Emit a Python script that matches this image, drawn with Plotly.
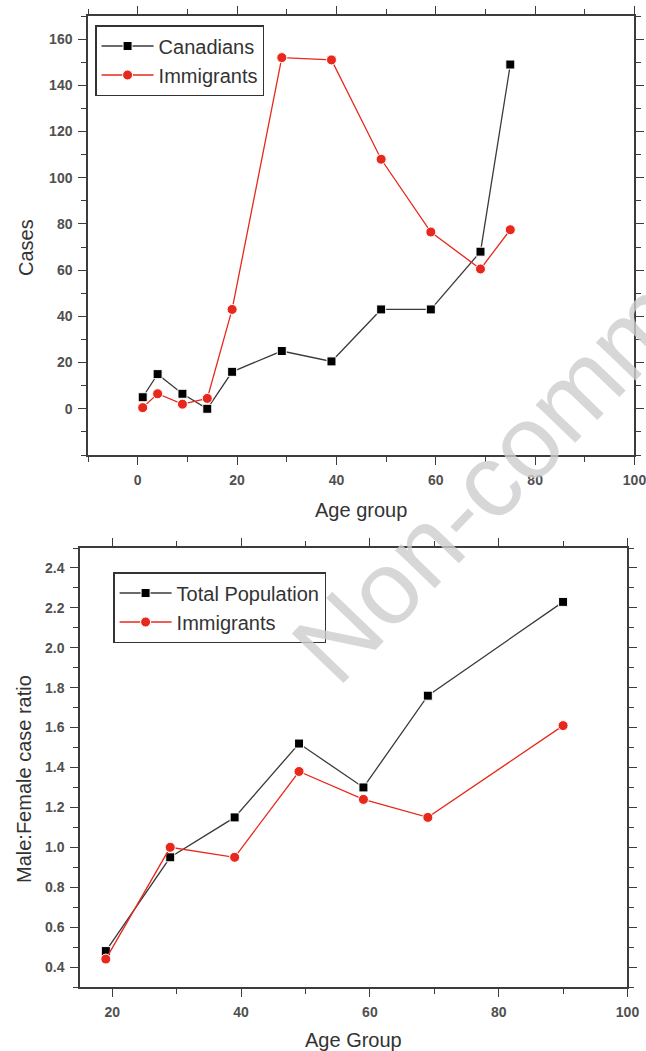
import plotly.graph_objects as go

# Top panel: cases by age group
age_top = [1, 4, 9, 14, 19, 29, 39, 49, 59, 69, 75]
canadians = [5, 15, 6.5, 0, 16, 25, 20.5, 43, 43, 68, 149]
immigrants_cases = [0.5, 6.5, 2, 4.5, 43, 152, 151, 108, 76.5, 60.5, 77.5]

# Bottom panel: male:female case ratio
age_bottom = [19, 29, 39, 49, 59, 69, 90]
total_pop_ratio = [0.48, 0.95, 1.15, 1.52, 1.30, 1.76, 2.23]
immigrants_ratio = [0.44, 1.00, 0.95, 1.38, 1.24, 1.15, 1.61]

top_y_ticks = [0, 20, 40, 60, 80, 100, 120, 140, 160]
top_x_ticks = [0, 20, 40, 60, 80, 100]
bot_y_ticks = [0.4, 0.6, 0.8, 1.0, 1.2, 1.4, 1.6, 1.8, 2.0, 2.2, 2.4]
bot_x_ticks = [20, 40, 60, 80, 100]

FONT = "Liberation Sans, Arial, sans-serif"
BLACK_LINE = "#3a3a3a"
RED = "#e8281c"
AXC = "#3c3c3c"

# horizontal compensation for the capture (page appears ~1.9% narrower)
S = 1 / 0.981
W, H = 658, 1051


def px(X):
    return X * S / W


def py(Y):
    return 1 - Y / H


fig = go.Figure()

fig.add_trace(go.Scatter(x=age_top, y=canadians, name="Canadians", mode="lines+markers",
                         line=dict(color=BLACK_LINE, width=1.3),
                         marker=dict(symbol="square", size=9, color="black", line=dict(color="white", width=1)),
                         xaxis="x", yaxis="y", legend="legend"))
fig.add_trace(go.Scatter(x=age_top, y=immigrants_cases, name="Immigrants", mode="lines+markers",
                         line=dict(color=RED, width=1.3),
                         marker=dict(symbol="circle", size=10, color=RED, line=dict(color="white", width=1)),
                         xaxis="x", yaxis="y", legend="legend"))
fig.add_trace(go.Scatter(x=age_bottom, y=total_pop_ratio, name="Total Population", mode="lines+markers",
                         line=dict(color=BLACK_LINE, width=1.3),
                         marker=dict(symbol="square", size=9, color="black", line=dict(color="white", width=1)),
                         xaxis="x2", yaxis="y2", legend="legend2"))
fig.add_trace(go.Scatter(x=age_bottom, y=immigrants_ratio, name="Immigrants", mode="lines+markers",
                         line=dict(color=RED, width=1.3),
                         marker=dict(symbol="circle", size=10, color=RED, line=dict(color="white", width=1)),
                         xaxis="x2", yaxis="y2", legend="legend2"))

tickfont = dict(family=FONT, size=14, color="#505050", weight="bold")


def axis(domain, anchor, rng, tickvals, minor_tick0, minor_dtick, fmt=None):
    d = dict(domain=domain, anchor=anchor, range=rng, tickmode="array", tickvals=tickvals,
             showgrid=False, zeroline=False, showline=True, linecolor=AXC, linewidth=1.6,
             mirror="ticks", ticks="outside", ticklen=8, tickwidth=1.4, tickcolor=AXC,
             tickfont=tickfont, ticklabelstandoff=3,
             minor=dict(tickmode="linear", tick0=minor_tick0, dtick=minor_dtick, ticks="outside",
                        ticklen=5, tickwidth=1.2, tickcolor=AXC, showgrid=False))
    if fmt:
        d["tickformat"] = fmt
    return d


legend_style = dict(xanchor="left", yanchor="top", bgcolor="white",
                    bordercolor="#333333", borderwidth=1.5,
                    font=dict(family=FONT, size=20, color="#333333"),
                    tracegroupgap=0, itemwidth=52)

fig.update_layout(
    width=W, height=H, margin=dict(l=0, r=0, t=0, b=0),
    paper_bgcolor="white", plot_bgcolor="white",
    font=dict(family=FONT, color="#333333"),
    xaxis=axis([px(88), px(634)], "y", [-10, 100], top_x_ticks, -10, 10),
    yaxis=axis([py(455), py(16)], "x", [-20, 170], top_y_ticks, -10, 10),
    xaxis2=axis([px(80), px(627)], "y2", [15, 100], bot_x_ticks, 10, 10),
    yaxis2=axis([py(987), py(548)], "x2", [0.3, 2.5], bot_y_ticks, 0.3, 0.1, ".1f"),
    legend=dict(x=px(95), y=py(25), **legend_style),
    legend2=dict(x=px(113), y=py(572), **legend_style),
    showlegend=True,
)

annots = [
    dict(text="Cases", x=px(26), y=py(248), textangle=-90),
    dict(text="Age group", x=px(361), y=py(510), textangle=0),
    dict(text="Male:Female case ratio", x=px(24), y=py(779), textangle=-90),
    dict(text="Age Group", x=px(353), y=py(1040), textangle=0),
]
for a in annots:
    fig.add_annotation(xref="paper", yref="paper", showarrow=False, xanchor="center", yanchor="middle",
                       font=dict(family=FONT, size=20, color="#333333"), **a)

# watermark
fig.add_annotation(xref="paper", yref="paper", x=px(574), y=py(392), showarrow=False,
                   text="Non-commercial", textangle=-46, xanchor="center", yanchor="middle",
                   font=dict(family=FONT, size=104, color="rgba(205,205,205,0.8)"))

fig.write_html("out.html", config={"displayModeBar": False},
               post_script="document.body.style.margin='0';document.body.style.overflow='hidden';")
